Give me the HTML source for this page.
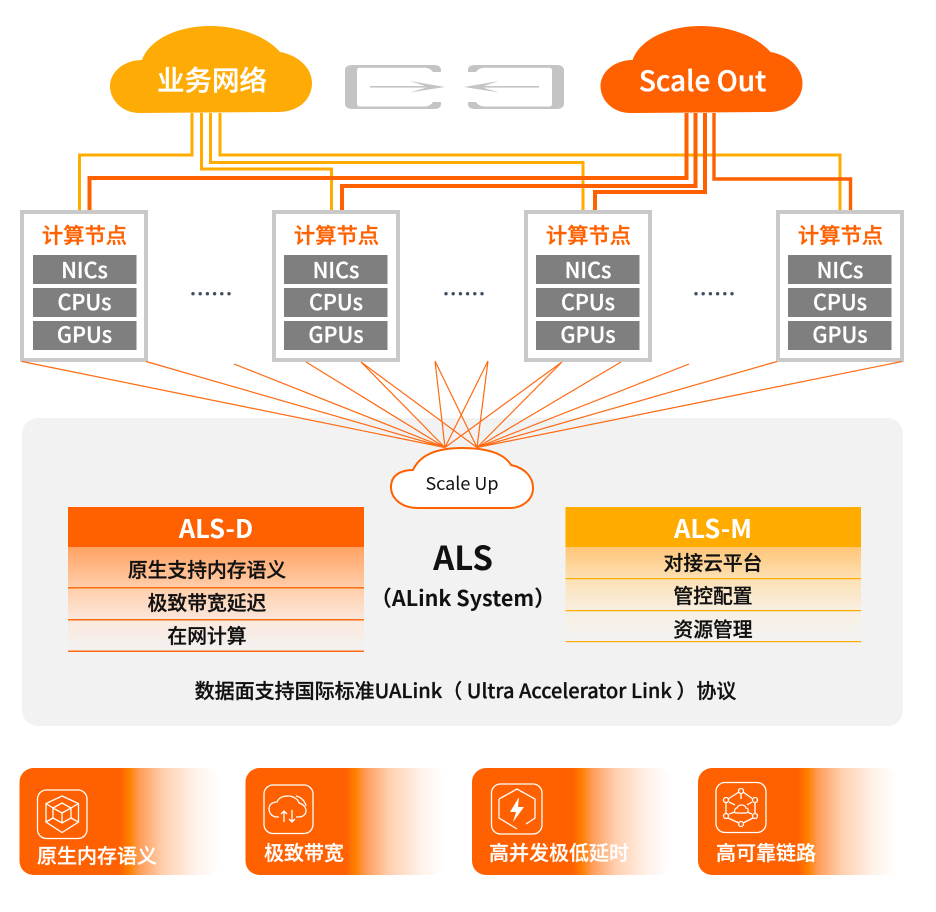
<!DOCTYPE html>
<html lang="zh"><head><meta charset="utf-8"><style>
html,body{margin:0;padding:0;background:#fff;width:936px;height:912px;overflow:hidden}
svg{display:block}
text{font-family:"Noto Sans CJK SC","Liberation Sans",sans-serif;text-anchor:middle}
.t{font-size:21.3px;font-weight:500;fill:#ff6000;stroke:#ff6000;stroke-width:.35}
.g{font-size:21.6px;font-weight:500;fill:#fff;stroke:#fff;stroke-width:.3}
.r{font-size:19.8px;font-weight:500;fill:#111;stroke:#111;stroke-width:.3}
.c{font-size:20px;font-weight:500;fill:#fff;stroke:#fff;stroke-width:.25}
.i{fill:none;stroke:#fff;stroke-width:1.3}
</style></head><body>
<svg width="936" height="912" viewBox="0 0 936 912" xmlns="http://www.w3.org/2000/svg">
<defs>
<path id="cl" d="M140 113C122 113 110 100 110 86C110 72 124 60 142 60C150 38 180 26 210 26C240 26 267 37 280 52C298 55 312 68 312 83C312 100 298 112 278 112Z"/>
<linearGradient id="gd" x1="0" y1="0" x2="0" y2="1"><stop offset="0" stop-color="#ffa263"/><stop offset=".38" stop-color="#ffcda9"/><stop offset=".7" stop-color="#fbe8dc"/><stop offset="1" stop-color="#f2f2f2"/></linearGradient>
<linearGradient id="gm" x1="0" y1="0" x2="0" y2="1"><stop offset="0" stop-color="#ffc677"/><stop offset=".33" stop-color="#fde0b4"/><stop offset=".67" stop-color="#f8efe1"/><stop offset="1" stop-color="#f2f2f2"/></linearGradient>
<linearGradient id="cg" x1="0" y1="0" x2="1" y2="0"><stop offset="0" stop-color="#ff6000"/><stop offset=".5" stop-color="#ff6000"/><stop offset=".55" stop-color="#ff8000"/><stop offset=".6" stop-color="#ff9c58"/><stop offset=".72" stop-color="#ffd0b0"/><stop offset=".88" stop-color="#fff2ea"/><stop offset="1" stop-color="#fff"/></linearGradient>
<rect id="nb" x="22" y="212" width="124" height="148" fill="#fff" stroke="#c9c9c9" stroke-width="4"/>
<g id="ni">
<rect x="33" y="255" width="103.500" height="29" fill="#7f7f7f"/>
<rect x="33" y="288" width="103.500" height="29" fill="#7f7f7f"/>
<rect x="33" y="321" width="103.500" height="29" fill="#7f7f7f"/>
</g>
<g id="dots" fill="#3f4d60"><circle cx="0" cy="0" r="1.7"/><circle cx="7.200" cy="0" r="1.7"/><circle cx="14.400" cy="0" r="1.7"/><circle cx="21.600" cy="0" r="1.7"/><circle cx="28.800" cy="0" r="1.7"/><circle cx="36" cy="0" r="1.7"/></g>
<path id="br" fill="#c4c4c4" d="M352 65H434C439 65 441 67 441 70V72H433C431 69 428 67.700 424 67.700H360C358 67.700 357 68.700 357 70.700V103.500C357 105.500 358 106.500 360 106.500H424C428 106.500 431 105 433 102H441V104C441 107 439 109 434 109H352C348 109 345 107 345 104V70C345 67 348 65 352 65Z"/>
</defs>

<rect x="22" y="418" width="881" height="308" rx="16" fill="#f2f2f2"/>

<!-- top connectors -->
<g fill="none" stroke="#ffab00" stroke-width="3">
<path d="M192 113V155H79.500V211"/>
<path d="M201.500 113V169H331.500V211"/>
<path d="M210.500 113V162.500H583V211"/>
<path d="M220 113V155H840V211"/>
</g>
<g fill="none" stroke="#ff6000" stroke-width="4">
<path d="M686.500 113V178H89.500V211"/>
<path d="M695.500 113V186H342V211"/>
<path d="M705 113V192H595V211"/>
<path d="M714 113V179H850.500V211" stroke-width="3.400"/>
</g>

<!-- clouds -->
<use href="#cl" fill="#ffab05"/>
<text x="212" y="90" font-weight="500" fill="#fff" stroke="#fff" stroke-width=".35" style="font-size:27.500px">业务网络</text>
<use href="#cl" x="490.500" fill="#ff6000"/>
<text x="702.500" y="91" fill="#fff" stroke="#fff" stroke-width=".35" font-weight="500" style="font-size:28px">Scale Out</text>

<!-- exchange arrows -->
<use href="#br"/>
<use href="#br" transform="matrix(-1 0 0 1 909 0)"/>
<g fill="#c4c4c4">
<rect x="370" y="86" width="60" height="1.600"/>
<path d="M410 81L445 87L410 92.500L428 87Z"/>
<rect x="479" y="86" width="60" height="1.600"/>
<path d="M499 81L464 87L499 92.500L481 87Z"/>
</g>

<!-- nodes -->
<use href="#nb"/><use href="#nb" x="252"/><use href="#nb" x="504"/><use href="#nb" x="756"/>
<use href="#ni"/><use href="#ni" x="251"/><use href="#ni" x="503"/><use href="#ni" x="755"/>
<g>
<text class="t" x="84.500" y="243">计算节点</text><text class="g" x="84.500" y="278">NICs</text><text class="g" x="84.500" y="310">CPUs</text><text class="g" x="84.500" y="342.500">GPUs</text>
<text class="t" x="336.500" y="243">计算节点</text><text class="g" x="336" y="278">NICs</text><text class="g" x="336" y="310">CPUs</text><text class="g" x="336" y="342.500">GPUs</text>
<text class="t" x="588.500" y="243">计算节点</text><text class="g" x="588" y="278">NICs</text><text class="g" x="588" y="310">CPUs</text><text class="g" x="588" y="342.500">GPUs</text>
<text class="t" x="840.500" y="243">计算节点</text><text class="g" x="840" y="278">NICs</text><text class="g" x="840" y="310">CPUs</text><text class="g" x="840" y="342.500">GPUs</text>
</g>
<use href="#dots" x="193" y="293.700"/><use href="#dots" x="446" y="293.700"/><use href="#dots" x="696" y="293.700"/>

<!-- fan lines -->
<g fill="none" stroke="#ff6a13" stroke-width="1.200">
<path d="M22 361.500L445 447.500M146 361.500L445 447.500M234 364L445 447.500M306 362L445 447.500M361 362L445 447.500M361 362L477 447.500M435 361L445 447.500M435 361L477 447.500M488 361L445 447.500M488 361L477 447.500M562 362L445 447.500M562 362L477 447.500M621 362L477 447.500M689 364L477 447.500M777 361.500L477 447.500M902 361.500L477 447.500"/>
</g>

<!-- Scale Up cloud -->
<path d="M418 508C401 508 391 498 391 487C391 475 401 470 413 470C418 459 430 448 462 448C490 448 505 455 511 465C525 468 533 477 533 488C533 500 522 508 510 508Z" fill="#fff" stroke="#ff6000" stroke-width="2"/>
<text x="462" y="490" fill="#111" style="font-size:18px">Scale Up</text>

<!-- ALS-D -->
<rect x="68" y="507" width="296" height="40" fill="#ff6000"/>
<rect x="68" y="547" width="296" height="105" fill="url(#gd)"/>
<g fill="#ff6a13"><rect x="68" y="587" width="296" height="1.500"/><rect x="68" y="619" width="296" height="1.500"/><rect x="68" y="650.500" width="296" height="1.500"/></g>
<text x="216" y="538" fill="#fff" font-weight="700" style="font-size:25.500px">ALS-D</text>
<text class="r" x="207" y="577">原生支持内存语义</text>
<text class="r" x="207" y="610">极致带宽延迟</text>
<text class="r" x="207" y="643">在网计算</text>

<!-- ALS-M -->
<rect x="565.500" y="507" width="295.500" height="40" fill="#ffab00"/>
<rect x="565.500" y="547" width="295.500" height="95" fill="url(#gm)"/>
<g fill="#ffab00"><rect x="565.500" y="578" width="295.500" height="1.200"/><rect x="565.500" y="610" width="295.500" height="1.200"/><rect x="565.500" y="641" width="295.500" height="1.200"/></g>
<text x="713" y="538" fill="#fff" font-weight="700" style="font-size:25.500px">ALS-M</text>
<text class="r" x="713" y="570">对接云平台</text>
<text class="r" x="713" y="603">管控配置</text>
<text class="r" x="713" y="636.500">资源管理</text>

<!-- Center -->
<text x="463" y="570" fill="#111" font-weight="700" style="font-size:33px">ALS</text>
<text x="463" y="606" fill="#111" font-weight="700" style="font-size:21.500px">（ALink System）</text>
<text class="r" x="465.500" y="698" style="font-size:20px">数据面支持国际标准UALink（ Ultra Accelerator Link ）协议</text>

<!-- cards -->
<rect x="19.500" y="768" width="200" height="107" rx="14" fill="url(#cg)"/>
<rect x="245.500" y="768" width="200" height="107" rx="14" fill="url(#cg)"/>
<rect x="472" y="768" width="200" height="107" rx="14" fill="url(#cg)"/>
<rect x="698" y="768" width="200" height="107" rx="14" fill="url(#cg)"/>

<text class="c" x="97" y="863">原生内存语义</text>
<text class="c" x="304" y="860">极致带宽</text>
<text class="c" x="559" y="860">高并发极低延时</text>
<text class="c" x="766" y="860">高可靠链路</text>

<!-- icon 1 -->
<g class="i">
<rect x="37.500" y="790" width="49.500" height="48.500" rx="9"/>
<path d="M62 796L78.500 803.500V822L62 832.500L46 822V803.500Z"/>
<path d="M62 803L71 808V818L62 823L53 818V808ZM53 808L62 813L71 808M62 813V823M46 803.500L53 808M78.500 803.500L71 808M46 822L53 818M78.500 822L71 818"/>
</g>
<!-- icon 2 -->
<g class="i">
<rect x="264" y="785" width="49" height="48.500" rx="9"/>
<path d="M279 817H277C272 817 269 813 269 809C269 804 273 802 277 802C279 797 284 796 288 796C293 796 298 799 299 803C303 804 306 807 306 811C306 815 302 817 299 817H296"/>
<path d="M296 796C301 797 305 801 306 806"/>
<path d="M284 822V811M281 814L284 811L287 814M292 810V822M289 819L292 822L295 819"/>
</g>
<!-- icon 3 -->
<g class="i">
<rect x="491.500" y="784" width="50.500" height="50" rx="9"/>
<path d="M499 799L517 789L535 799V818L526 824M517 829L499 818V799"/>
<path d="M519 797L510 812H516L513 822L524 807H518Z" fill="#fff" stroke="none"/>
</g>
<!-- icon 4 -->
<g class="i">
<rect x="716" y="782.500" width="50" height="50" rx="9"/>
<circle cx="741" cy="791" r="2.500"/><circle cx="741" cy="824" r="2.500"/><circle cx="726" cy="800" r="2.500"/><circle cx="755" cy="800" r="2.500"/><circle cx="726" cy="816" r="2.500"/><circle cx="755" cy="816" r="2.500"/>
<path d="M743 792L753 799M739 792L728 799M726 803V813M755 803V813M728 818L739 823M753 818L743 823M741 794V799M729 802L735 805M752 802L747 805M729 814L735 812M752 814L747 812"/>
<path d="M736 813C733 813 735 808 737 808C738 804 745 804 746 808C749 808 749 813 746 813Z"/>
</g>
</svg>
</body></html>
